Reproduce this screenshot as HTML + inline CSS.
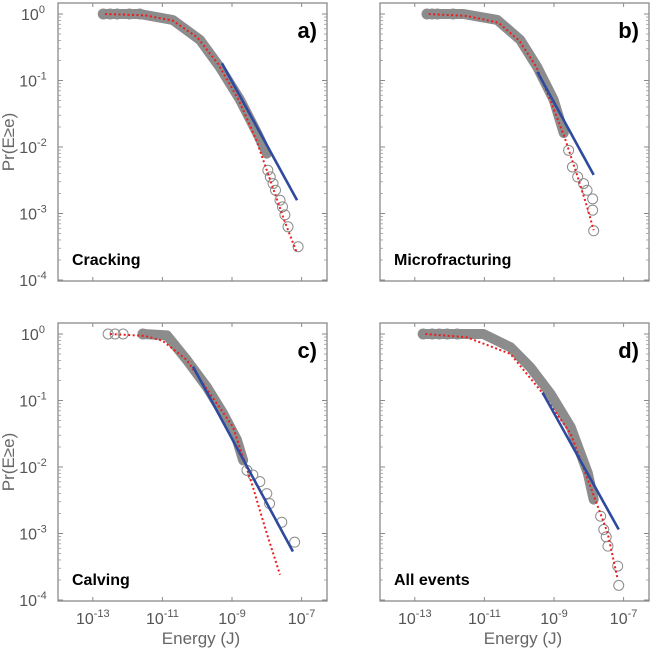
<!DOCTYPE html>
<html><head><meta charset="utf-8"><style>
html,body{margin:0;padding:0;background:#fff;}
svg{display:block;font-family:"Liberation Sans",sans-serif;}
</style></head><body>
<svg id="fig" width="660" height="648" viewBox="0 0 660 648"></svg>
<script>
// Panel a (Cracking): [log10 E, log10 P]
const aBand=[[-12.7,0],[-11.65,0],[-10.7,-0.09],[-9.92,-0.39],[-9.35,-0.8],[-8.77,-1.29],[-8.28,-1.79],[-8.0,-2.1]];
const aSparse=[[-12.7,0],[-12.5,0],[-12.3,0],[-11.95,0],[-11.65,0],[-7.97,-2.35],[-7.9,-2.45],[-7.82,-2.55],[-7.75,-2.65],[-7.62,-2.8],[-7.55,-2.9],[-7.48,-3.02],[-7.39,-3.2],[-7.1,-3.5]];
const aFit=[[-12.65,0],[-11.5,-0.02],[-10.7,-0.1],[-10,-0.35],[-9.4,-0.75],[-8.8,-1.3],[-8.3,-1.9],[-7.9,-2.5],[-7.5,-3.1],[-7.13,-3.6]];
const aPow=[[-9.29,-0.74],[-7.13,-2.8]];
// Panel b (Microfracturing)
const bBand=[[-12.65,0],[-11.6,0],[-10.63,-0.09],[-9.97,-0.39],[-9.48,-0.8],[-9.01,-1.29],[-8.72,-1.79]];
const bSparse=[[-12.65,0],[-12.5,0],[-12.35,0],[-11.9,0],[-8.58,-2.05],[-8.47,-2.3],[-8.32,-2.45],[-8.15,-2.55],[-8.05,-2.65],[-7.89,-2.78],[-7.89,-2.95],[-7.86,-3.26]];
const bFit=[[-12.6,0],[-11.5,-0.03],[-10.6,-0.13],[-10,-0.4],[-9.5,-0.8],[-9.1,-1.3],[-8.7,-1.85],[-8.35,-2.4],[-8.05,-2.9],[-7.86,-3.25]];
const bPow=[[-9.48,-0.87],[-7.86,-2.42]];
// Panel c (Calving)
const cBand=[[-11.56,0],[-10.87,-0.02],[-10.3,-0.39],[-9.72,-0.8],[-9.26,-1.19],[-8.86,-1.59],[-8.68,-1.9]];
const cSparse=[[-12.56,0],[-12.36,0],[-12.13,0],[-11.56,0],[-8.57,-2.05],[-8.4,-2.12],[-8.2,-2.22],[-8.0,-2.4],[-7.92,-2.55],[-7.57,-2.83],[-7.2,-3.13]];
const cFit=[[-12.5,0],[-11.5,-0.03],[-11,-0.1],[-10.3,-0.39],[-8.97,-1.4],[-8.4,-2.3],[-8.0,-3.0],[-7.62,-3.62]];
const cPow=[[-10.12,-0.49],[-7.25,-3.27]];
// Panel d (All events)
const dBand=[[-12.76,0],[-11.03,0],[-10.25,-0.2],[-9.68,-0.5],[-9.1,-0.9],[-8.52,-1.4],[-8.03,-2.09],[-7.86,-2.49]];
const dSparse=[[-12.76,0],[-12.5,0],[-12.3,0],[-12.07,0],[-11.78,0],[-7.66,-2.74],[-7.57,-2.94],[-7.5,-3.05],[-7.45,-3.19],[-7.17,-3.49],[-7.14,-3.78]];
const dFit=[[-12.7,0],[-11.5,-0.05],[-10.25,-0.3],[-9.39,-0.85],[-8.52,-1.5],[-7.95,-2.3],[-7.46,-2.99],[-7.17,-3.69]];
const dPow=[[-9.33,-0.88],[-7.14,-2.94]];
const xTickExp=[-13,-11,-9,-7];
const yTickExp=[0,-1,-2,-3,-4];

const NS="http://www.w3.org/2000/svg";
const fig=document.getElementById('fig');
function mk(tag,attrs,parent){const e=document.createElementNS(NS,tag);for(const k in attrs)e.setAttribute(k,attrs[k]);(parent||fig).appendChild(e);return e;}

function panel(id,L,T,letter,title,band,sparse,fit,pow,showY,showX){
  const W=269,H=278,y0=T+11,dec=66.5,xdec=34.8;
  const sx=v=>L+(v+14)*xdec;
  const sy=v=>y0-v*dec;
  const g=mk('g',{});
  
  
  const box=mk('rect',{x:L,y:T,width:W,height:H,fill:'none',stroke:'#8a8a8a','stroke-width':1.3},g);
  
  
  for(const e of xTickExp){
    const x=sx(e);
    mk('line',{x1:x,y1:T,x2:x,y2:T+4,stroke:'#8a8a8a'},g);
    mk('line',{x1:x,y1:T+H,x2:x,y2:T+H-4,stroke:'#8a8a8a'},g);
    if(showX){
      const t=mk('text',{x:x,y:T+H+23,'font-size':16,fill:'#555','text-anchor':'middle'},g);
      
      
      t.textContent='10';
      const s=mk('tspan',{dy:-7,'font-size':11},t);s.textContent=String(e);
    }
  }
  for(const e of yTickExp){
    const y=sy(e);
    mk('line',{x1:L,y1:y,x2:L+5,y2:y,stroke:'#8a8a8a'},g);
    mk('line',{x1:L+W,y1:y,x2:L+W-5,y2:y,stroke:'#8a8a8a'},g);
    for(let m=2;m<=9;m++){
      const ym=y-Math.log10(m)*dec;
      if(ym<T)continue;
      mk('line',{x1:L,y1:ym,x2:L+3,y2:ym,stroke:'#999','stroke-width':0.8},g);
      mk('line',{x1:L+W,y1:ym,x2:L+W-3,y2:ym,stroke:'#999','stroke-width':0.8},g);
    }
    if(showY){
      const t=mk('text',{x:L-25,y:y+6,'font-size':16,fill:'#555','text-anchor':'middle'},g);
      
      
      t.textContent='10';
      const s=mk('tspan',{dy:-7,'font-size':11},t);s.textContent=String(e);
    }
  }
  if(showY){
    const cy=T+H/2;
    const t=mk('text',{x:14,y:cy,'font-size':17,fill:'#666','text-anchor':'middle',transform:'rotate(-90 14 '+cy+')'},g);
    
    
    t.textContent='Pr(E≥e)';
  }
  if(showX){
    const t=mk('text',{x:L+143,y:T+H+43,'font-size':17,fill:'#666','text-anchor':'middle'},g);
    
    
    t.textContent='Energy (J)';
  }
  const bp=band.map(p=>sx(p[0])+','+sy(p[1])).join(' ');
  const b=mk('polyline',{points:bp,fill:'none',stroke:'#8c8c8c','stroke-width':10,'stroke-linecap':'round','stroke-linejoin':'round'},g);
  
  
  for(const p of sparse){
    const c=mk('circle',{cx:sx(p[0]),cy:sy(p[1]),r:5,fill:'none',stroke:'#8c8c8c','stroke-width':1},g);
    
    
  }
  const fp=fit.map(p=>sx(p[0])+','+sy(p[1])).join(' ');
  const f=mk('polyline',{points:fp,fill:'none',stroke:'#ee1c1c','stroke-width':2,'stroke-dasharray':'2 2.5'},g);
  
  
  const pl=mk('line',{x1:sx(pow[0][0]),y1:sy(pow[0][1]),x2:sx(pow[1][0]),y2:sy(pow[1][1]),stroke:'#2e4a9e','stroke-width':2.6},g);
  
  
  const lt=mk('text',{x:L+W-10,y:T+35,'font-size':22,'font-weight':'bold',fill:'#000','text-anchor':'end'},g);
  
  
  lt.textContent=letter;
  const tt=mk('text',{x:L+14,y:T+H-16,'font-size':16,'font-weight':'bold',fill:'#000'},g);
  
  
  tt.textContent=title;
}
panel('a',58,3,'a)','Cracking',aBand,aSparse,aFit,aPow,true,false);
panel('b',380,3,'b)','Microfracturing',bBand,bSparse,bFit,bPow,false,false);
panel('c',58,323,'c)','Calving',cBand,cSparse,cFit,cPow,true,true);
panel('d',380,323,'d)','All events',dBand,dSparse,dFit,dPow,false,true);
</script>
</body></html>
